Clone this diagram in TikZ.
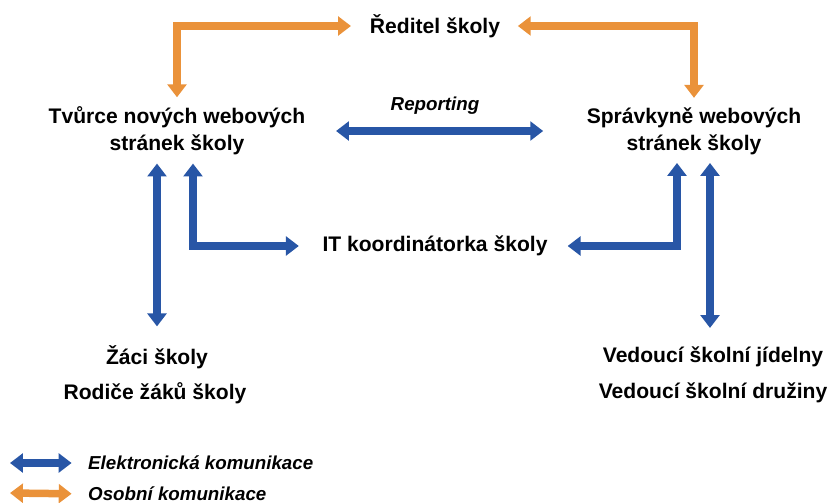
\documentclass[tikz,border=0pt]{standalone}
\usepackage{fontspec}
\setmainfont{Liberation Sans}
\usetikzlibrary{arrows.meta,positioning,calc}
\definecolor{webblue}{RGB}{40,86,166}
\definecolor{weborange}{RGB}{234,146,58}
\tikzset{
  txt/.style={font=\bfseries\fontsize{18}{23}\selectfont, align=center, inner sep=0pt},
  note/.style={font=\bfseries\itshape\fontsize{16}{18}\selectfont, inner sep=0pt},
  arrowblue/.style={{Triangle[length=11pt,width=16pt]}-{Triangle[length=11pt,width=16pt]},
                    line width=6.4pt, webblue, line join=miter},
  arroworange/.style={arrowblue, weborange},
}

\begin{document}
\begin{tikzpicture}[x=0.03cm, y=-0.03cm]
\useasboundingbox (0,0) rectangle (830,503);
\node[txt] (reditel) at (435,26) {Ředitel školy};
\node[txt] (tvurce) at (177,131) {Tvůrce nových webových\\stránek školy};
\node[txt] (sprav) at (694,131) {Správkyně webových\\stránek školy};
\node[note] (report) at (435,106) {Reporting};
\node[txt] (it) at (435,246) {IT koordinátorka školy};
\node[txt] (zaci) at (157,357) {Žáci školy};
\node[txt] (rodice) at (155,393) {Rodiče žáků školy};
\node[txt] (jidelna) at (713,357) {Vedoucí školní jídelny};
\node[txt] (druzina) at (713,393) {Vedoucí školní družiny};
% osobni komunikace
\draw[arroworange, shorten <=16pt, shorten >=8pt] (reditel.west) -| (tvurce.north);
\draw[arroworange, shorten <=15pt, shorten >=8pt] (reditel.east) -| (sprav.north);
% elektronicka komunikace
\draw[arrowblue, shorten <=26pt, shorten >=37pt] (tvurce.east) -- (sprav.west);
\draw[arrowblue, shorten <=16pt, shorten >=7pt] (zaci.north) -- (zaci.north |- tvurce.south);
\draw[arrowblue, shorten <=7pt, shorten >=20pt] ($(tvurce.south)+(16,0)$) |- (it.west);
\draw[arrowblue, shorten <=7pt, shorten >=17pt] ($(sprav.south)+(-17,0)$) |- (it.east);
\draw[arrowblue, shorten <=16pt, shorten >=7pt] ($(jidelna.north)+(-3,0)$) -- ($(jidelna.north |- sprav.south)+(-3,0)$);
% legenda
\node[note, anchor=west] (elek) at (88,463) {Elektronická komunikace};
\node[note, anchor=west] (osob) at (88,494) {Osobní komunikace};
\coordinate (legB) at (10,463);
\coordinate (legO) at (10,493);
\draw[arrowblue, shorten >=14pt] (legB) -- (elek.west);
\draw[arroworange, shorten >=14pt] (legO) -- (osob.west);
\end{tikzpicture}
\end{document}
